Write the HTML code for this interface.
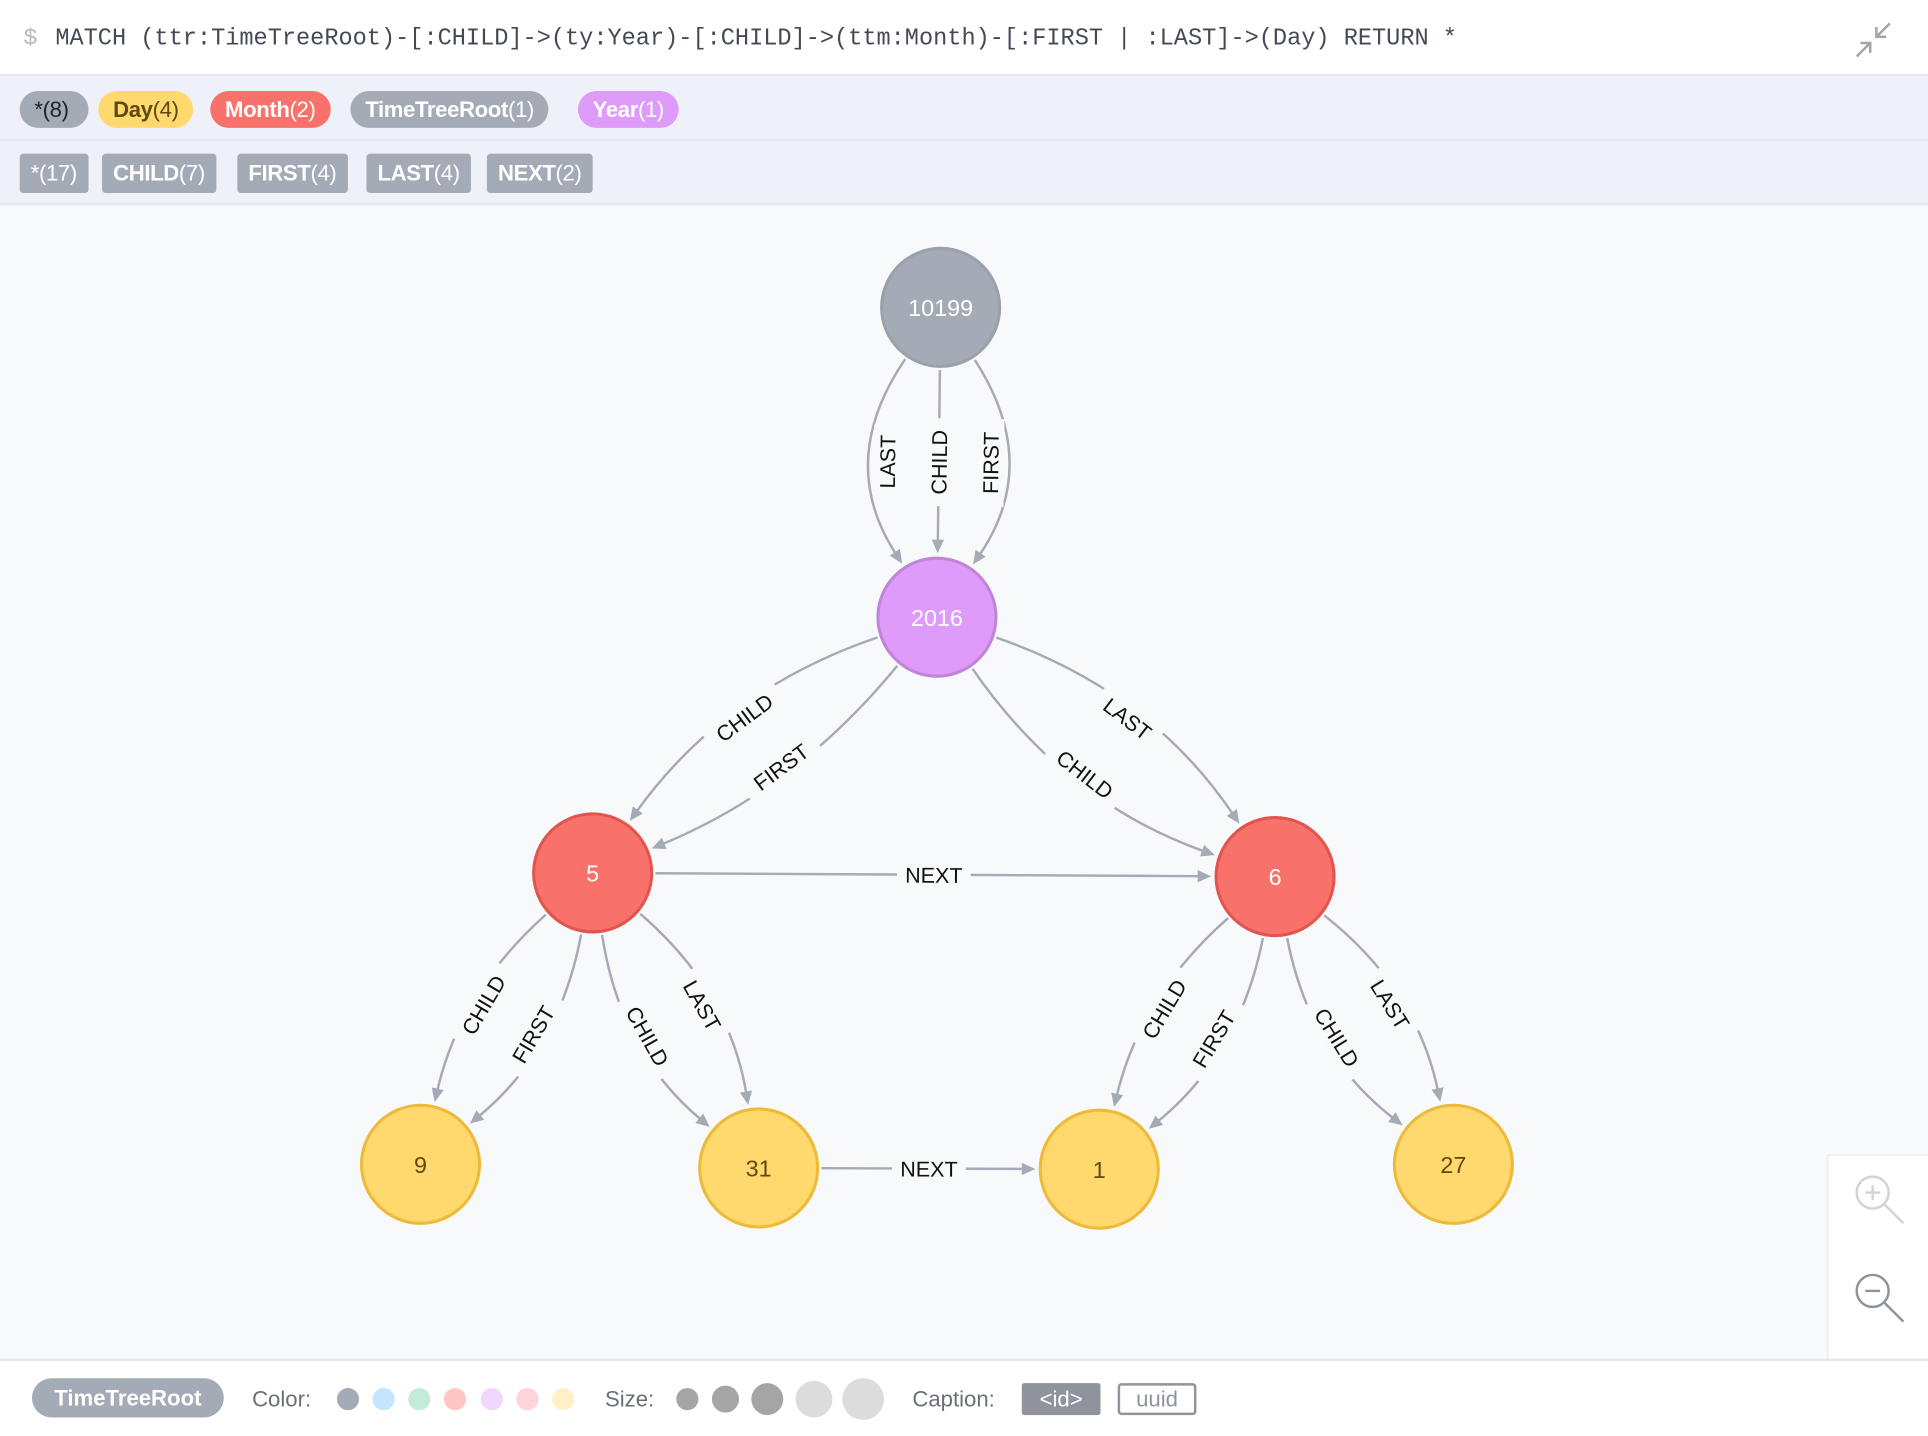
<!DOCTYPE html>
<html><head><meta charset="utf-8">
<style>
html,body{margin:0;padding:0;width:1928px;height:1436px;overflow:hidden;background:#fff;font-family:"Liberation Sans",sans-serif}
#wrap{position:absolute;left:0;top:0;width:1568px;height:1168px;transform-origin:0 0;transform:scale(1.22959,1.22945)}
.abs{position:absolute}
.pill{position:absolute;top:74px;height:30px;line-height:30px;border-radius:15px;font-size:18px;padding:0 12px;color:#fff;box-sizing:border-box;white-space:nowrap;letter-spacing:-0.3px}
.pill b,.rel b{font-weight:bold}
.rel{position:absolute;top:125px;height:32px;line-height:32px;border-radius:3px;font-size:18px;padding:0 9px;color:#fff;background:#a5abb6;white-space:nowrap;letter-spacing:-0.3px}
.ftxt{position:absolute;top:1128px;font-size:18px;color:#6b6f77}
</style></head><body>
<div id="wrap">
 <div class="abs" style="left:0;top:0;width:1568px;height:62px;background:#fff;border-bottom:2px solid #e6e9f0;box-sizing:border-box">
  <div class="abs" style="left:19px;top:20px;font:19px 'Liberation Mono',monospace;color:#b5b9bf">$</div>
  <div class="abs" style="left:45px;top:20px;font:19.2px 'Liberation Mono',monospace;color:#444a55;white-space:pre">MATCH (ttr:TimeTreeRoot)-[:CHILD]->(ty:Year)-[:CHILD]->(ttm:Month)-[:FIRST | :LAST]->(Day) RETURN *</div>
  <svg class="abs" style="left:1505px;top:14px" width="40" height="36"><g stroke="#a0a4ab" stroke-width="2" fill="none"><path d="M32 5 L21 16 M21 8 L21 16 L29 16"/><path d="M5 32 L16 21 M8 21 L16 21 L16 29"/></g></svg>
 </div>
 <div class="abs" style="left:0;top:62px;width:1568px;height:53px;background:#eef1f8;border-bottom:2px solid #e3e6ee;box-sizing:border-box"></div>
 <div class="pill" style="left:16px;width:56px;background:#a5abb6;color:#222">*(8)</div>
 <div class="pill" style="left:80px;background:#ffd86e;color:#5e4a10"><b>Day</b>(4)</div>
 <div class="pill" style="left:171px;background:#f8716b"><b>Month</b>(2)</div>
 <div class="pill" style="left:285px;background:#a5abb6"><b>TimeTreeRoot</b>(1)</div>
 <div class="pill" style="left:470px;background:#de9bf9"><b>Year</b>(1)</div>
 <div class="abs" style="left:0;top:115px;width:1568px;height:52px;background:#eef1f8;border-bottom:2px solid #e3e6ee;box-sizing:border-box"></div>
 <div class="rel" style="left:16px">*(17)</div>
 <div class="rel" style="left:83px"><b>CHILD</b>(7)</div>
 <div class="rel" style="left:193px"><b>FIRST</b>(4)</div>
 <div class="rel" style="left:298px"><b>LAST</b>(4)</div>
 <div class="rel" style="left:396px"><b>NEXT</b>(2)</div>
 <svg id="graph" class="abs" style="left:0;top:167px" width="1568" height="938" viewBox="0 167 1568 938">
  <rect x="0" y="167" width="1568" height="938" fill="#f8f9fb"/>
 </svg>
 <div class="abs" style="left:1486px;top:939px;width:82px;height:166px;background:#fff;border-left:1px solid #e6e9f0;border-top:1px solid #e6e9f0">
  <svg class="abs" style="left:18px;top:12px" width="48" height="48"><g fill="none" stroke="#d0d3d8" stroke-width="2"><circle cx="18" cy="18" r="13"/><path d="M27 27 L43 43 M12 18 H24 M18 12 V24"/></g></svg>
  <svg class="abs" style="left:18px;top:92px" width="48" height="48"><g fill="none" stroke="#8e939b" stroke-width="2"><circle cx="18" cy="18" r="13"/><path d="M27 27 L43 43 M12 18 H24"/></g></svg>
 </div>
 <div class="abs" style="left:0;top:1105px;width:1568px;height:63px;background:#fff;border-top:2px solid #e3e6ee;box-sizing:border-box"></div>
 <div class="abs" style="left:26px;top:1121px;width:156px;height:32px;line-height:32px;border-radius:16px;background:#a5abb6;color:#fff;font-weight:bold;font-size:18px;text-align:center">TimeTreeRoot</div>
 <div class="ftxt" style="left:205px">Color:</div>
 <div class="ftxt" style="left:492px">Size:</div>
 <div class="ftxt" style="left:742px">Caption:</div>
 <div class="abs" style="left:831px;top:1125px;width:64px;height:26px;line-height:26px;background:#8e939d;color:#fff;font-size:18px;text-align:center;border-radius:2px">&lt;id&gt;</div>
 <div class="abs" style="left:909px;top:1125px;width:60px;height:22px;line-height:22px;border:2px solid #8e939d;color:#8e939d;font-size:18px;text-align:center;border-radius:3px">uuid</div>
 <svg class="abs" style="left:0;top:1105px" width="760" height="63">
  <g>
   <circle cx="283" cy="33" r="9" fill="#a5abb6"/><circle cx="312" cy="33" r="9" fill="#c4e5fd"/><circle cx="341" cy="33" r="9" fill="#c2ebd8"/><circle cx="370" cy="33" r="9" fill="#ffc7c3"/><circle cx="400" cy="33" r="9" fill="#f2d6fd"/><circle cx="429" cy="33" r="9" fill="#ffd3dc"/><circle cx="458" cy="33" r="9" fill="#fff0c8"/>
  </g>
  <g>
   <circle cx="559" cy="33" r="9" fill="#a5a5a5"/><circle cx="590" cy="33" r="11" fill="#a5a5a5"/><circle cx="624" cy="33" r="13" fill="#a5a5a5"/><circle cx="662" cy="33" r="15" fill="#dcdcdc"/><circle cx="702" cy="33" r="17" fill="#dcdcdc"/>
  </g>
 </svg>
</div>
<script>
const nodeIds=["root","year","m5","m6","d9","d31","d1","d27"];
const nodeCaptions=["10199","2016","5","6","9","31","1","27"];
const nodeKinds=["TimeTreeRoot","Year","Month","Month","Day","Day","Day","Day"];
const edgeSources=["root","root","root","year","year","year","year","m5","m5","m5","m5","m5","m6","m6","m6","m6","d31"];
const edgeTargets=["year","year","year","m5","m5","m6","m6","m6","d9","d9","d31","d31","d1","d1","d27","d27","d1"];
const edgeTypes=["LAST","CHILD","FIRST","CHILD","FIRST","LAST","CHILD","NEXT","CHILD","FIRST","CHILD","LAST","CHILD","FIRST","CHILD","LAST","NEXT"];
// layout (not data)
const layoutPos={root:[765,250],year:[762,502],m5:[482,710],m6:[1037,713],d9:[342,947],d31:[617,950],d1:[894,951],d27:[1182,947]};
const layoutBend=[42,0,-42,28,-22,-29,28,0,22,-25,26,-25,22,-25,26,-25,0];
const kindStyle={TimeTreeRoot:["#a5abb6","#9aa1ac","#fff"],Year:["#de9bf9","#bf85d6","#fff"],Month:["#f8716b","#e2554f","#fff"],Day:["#ffd86e","#edba39","#604a0e"]};
const R=49, NS="http://www.w3.org/2000/svg";
const svg=document.getElementById("graph");
function mk(t,a){const e=document.createElementNS(NS,t);for(const k in a)e.setAttribute(k,a[k]);return e;}
const edgeLayer=mk("g",{});svg.appendChild(edgeLayer);
const nodeLayer=mk("g",{});svg.appendChild(nodeLayer);
edgeTypes.forEach((type,i)=>{
 const s=layoutPos[edgeSources[i]],t=layoutPos[edgeTargets[i]];
 const dx=t[0]-s[0],dy=t[1]-s[1],L=Math.hypot(dx,dy);
 const nx=-dy/L,ny=dx/L,off=layoutBend[i];
 const mx=(s[0]+t[0])/2+nx*off,my=(s[1]+t[1])/2+ny*off;
 const cx=(s[0]+t[0])/2+nx*off*2,cy=(s[1]+t[1])/2+ny*off*2;
 let a1=Math.atan2(cy-s[1],cx-s[0]),a2=Math.atan2(cy-t[1],cx-t[0]);
 const p0=[s[0]+Math.cos(a1)*(R+2),s[1]+Math.sin(a1)*(R+2)];
 const tip=[t[0]+Math.cos(a2)*(R+3),t[1]+Math.sin(a2)*(R+3)];
 const p2=[tip[0]+Math.cos(a2)*9,tip[1]+Math.sin(a2)*9];
 const g=mk("g",{});
 
 
 g.appendChild(mk("path",{d:`M${p0[0]},${p0[1]} Q${cx},${cy} ${p2[0]},${p2[1]}`,fill:"none",stroke:"#a5abb6","stroke-width":2}));
 const ux=-Math.cos(a2),uy=-Math.sin(a2),px=-uy,py=ux;
 const bx=tip[0]-ux*11,by=tip[1]-uy*11;
 g.appendChild(mk("polygon",{points:`${tip[0]},${tip[1]} ${bx+px*5},${by+py*5} ${bx-px*5},${by-py*5}`,fill:"#a5abb6"}));
 let ang=Math.atan2(dy,dx)*180/Math.PI;
 if(ang>=90)ang-=180; if(ang<-90)ang+=180;
 const lg=mk("g",{transform:`translate(${mx},${my}) rotate(${ang})`});
 const w=type.length*11.5+14;
 lg.appendChild(mk("rect",{x:-w/2,y:-11,width:w,height:22,fill:"#f8f9fb"}));
 const tx=mk("text",{x:0,y:6.5,"text-anchor":"middle","font-size":17.5,fill:"#111","font-family":"Liberation Sans, sans-serif"});
 tx.textContent=type;
 
 
 lg.appendChild(tx);g.appendChild(lg);edgeLayer.appendChild(g);
});
nodeIds.forEach((id,i)=>{
 const p=layoutPos[id],st=kindStyle[nodeKinds[i]];
 const g=mk("g",{});
 
 
 g.appendChild(mk("circle",{cx:p[0],cy:p[1],r:R-1,fill:st[0],stroke:st[1],"stroke-width":2.5}));
 const tx=mk("text",{x:p[0],y:p[1]+7,"text-anchor":"middle","font-size":19,fill:st[2],"font-family":"Liberation Sans, sans-serif"});
 tx.textContent=nodeCaptions[i];
 g.appendChild(tx);nodeLayer.appendChild(g);
});
</script>
</body></html>
